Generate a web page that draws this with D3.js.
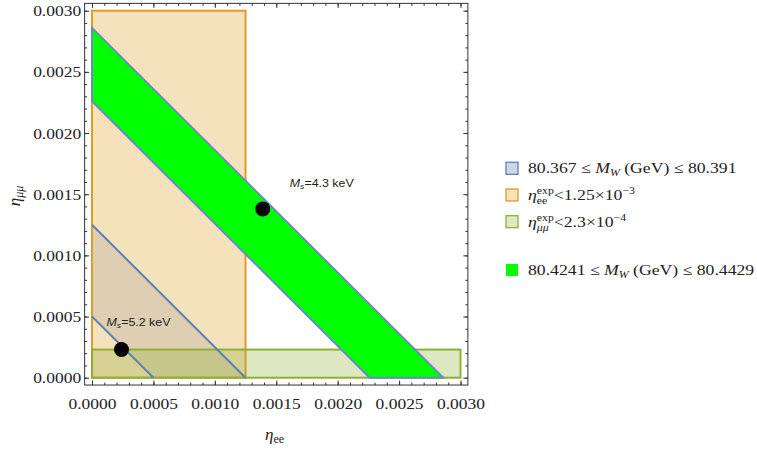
<!DOCTYPE html>
<html>
<head>
<meta charset="utf-8">
<script src="https://cdn.jsdelivr.net/npm/d3@7"></script>
<style>
  body { margin: 0; background: #fff; }
  svg text { font-family: "Liberation Serif", "DejaVu Serif", serif; }
</style>
</head>
<body>
<svg id="chart" width="757" height="449"></svg>
<script>
// values
var majorTicks = [0, 0.0005, 0.0010, 0.0015, 0.0020, 0.0025, 0.0030];
var minorTicks = d3.range(0, 31).map(i => i / 10000);
var blueBand = [0.0005, 0.00125];     // eta_ee + eta_mumu range, 80.367 <= MW <= 80.391
var greenBand = [0.00226, 0.00286];   // 80.4241 <= MW <= 80.4429
var eeLimit = 0.00125;
var mumuLimit = 0.00023;
var benchmarks = [
  { ee: 0.00024, mm: 0.00023, label: "=5.2 keV", dx: -15, dy: -24 },
  { ee: 0.00139, mm: 0.00138, label: "=4.3 keV", dx: 27, dy: -22 }
];

var blue = "#5e81b5", orange = "#e19c24", olive = "#8fb032";

var svg = d3.select("#chart");
var x = d3.scaleLinear().domain([0, 0.003]).range([92, 460.5]);
var y = d3.scaleLinear().domain([0, 0.003]).range([377.7, 10.7]);
var pad = 0.00006;
var fx0 = x(-pad), fx1 = x(0.003 + pad), fy0 = y(-pad), fy1 = y(0.003 + pad);

var plot = svg.append("g");

function band(lo, hi) {
  return [[0, lo], [0, hi], [hi, 0], [lo, 0]].map(p => [x(p[0]), y(p[1])]).join(" ");
}

// blue band fill (under the orange box)
plot.append("polygon")
  .attr("points", band(blueBand[0], blueBand[1]))
  .attr("fill", blue).attr("fill-opacity", 0.2)
  .attr("stroke", "none");

// orange box
plot.append("rect")
  .attr("x", x(0)).attr("y", y(0.003))
  .attr("width", x(eeLimit) - x(0)).attr("height", y(0) - y(0.003))
  .attr("fill", orange).attr("fill-opacity", 0.3)
  .attr("stroke", orange).attr("stroke-width", 2);

// olive box
plot.append("rect")
  .attr("x", x(0)).attr("y", y(mumuLimit))
  .attr("width", x(0.003) - x(0)).attr("height", y(0) - y(mumuLimit))
  .attr("fill", olive).attr("fill-opacity", 0.3)
  .attr("stroke", olive).attr("stroke-width", 2);

// blue band edges on top
blueBand.forEach(function (v) {
  plot.append("line")
    .attr("x1", x(0)).attr("y1", y(v))
    .attr("x2", x(v)).attr("y2", y(0))
    .attr("stroke", blue).attr("stroke-width", 2);
});

// green band
plot.append("polygon")
  .attr("points", band(greenBand[0], greenBand[1]))
  .attr("fill", "#00ff00")
  .attr("stroke", "#6a8cc0").attr("stroke-width", 2);

// benchmark points
benchmarks.forEach(function (b) {
  plot.append("circle")
    .attr("cx", x(b.ee)).attr("cy", y(b.mm)).attr("r", 7.5)
    .attr("fill", "#000");
  var g = plot.append("g")
    .attr("transform", "translate(" + (x(b.ee) + b.dx) + "," + (y(b.mm) + b.dy) + ") scale(1.08,1)");
  var t = g.append("text")
    .style("font-family", "'Liberation Sans', Arial, sans-serif")
    .attr("font-size", 11.5).attr("fill", "#222");
  t.append("tspan").attr("font-style", "italic").text("M");
  t.append("tspan").attr("font-style", "italic").attr("font-size", 8).attr("dy", 2.5).text("s");
  t.append("tspan").attr("dy", -2.5).text(b.label);
});

// frame
svg.append("rect")
  .attr("x", fx0).attr("y", fy1)
  .attr("width", fx1 - fx0).attr("height", fy0 - fy1)
  .attr("fill", "none").attr("stroke", "#333").attr("stroke-width", 1);

function styleAxis(g) {
  g.select(".domain").remove();
  g.selectAll(".tick line").attr("stroke", "#333");
}

// minor ticks, all four sides
[[d3.axisBottom(x), "translate(0," + fy0 + ")"],
 [d3.axisTop(x), "translate(0," + fy1 + ")"],
 [d3.axisLeft(y), "translate(" + fx0 + ",0)"],
 [d3.axisRight(y), "translate(" + fx1 + ",0)"]].forEach(function (a) {
  svg.append("g").attr("transform", a[1])
    .call(a[0].tickValues(minorTicks).tickSize(-2.5).tickFormat(""))
    .call(styleAxis);
});

var fmt = d3.format(".4f");

svg.append("g").attr("transform", "translate(0," + fy0 + ")")
  .call(d3.axisBottom(x).tickValues(majorTicks).tickSize(-4.5).tickPadding(13).tickFormat(fmt))
  .call(styleAxis);
svg.append("g").attr("transform", "translate(0," + fy1 + ")")
  .call(d3.axisTop(x).tickValues(majorTicks).tickSize(-4.5).tickFormat(""))
  .call(styleAxis);
svg.append("g").attr("transform", "translate(" + fx0 + ",0)")
  .call(d3.axisLeft(y).tickValues(majorTicks).tickSize(-4.5).tickPadding(3.5).tickFormat(fmt))
  .call(styleAxis);
svg.append("g").attr("transform", "translate(" + fx1 + ",0)")
  .call(d3.axisRight(y).tickValues(majorTicks).tickSize(-4.5).tickFormat(""))
  .call(styleAxis);

svg.selectAll(".tick text")
  .attr("font-family", "'Liberation Serif', serif")
  .attr("font-size", 15.5).attr("fill", "#222")
  .attr("textLength", 48).attr("lengthAdjust", "spacingAndGlyphs");

// axis titles
var xt = svg.append("text").attr("x", 265).attr("y", 440)
  .attr("font-size", 17).attr("fill", "#222");
xt.append("tspan").attr("font-style", "italic").text("η");
xt.append("tspan").attr("font-size", 12).attr("dy", 3).text("ee");

var yt = svg.append("text")
  .attr("transform", "translate(20,196) rotate(-90)")
  .attr("text-anchor", "middle")
  .attr("font-size", 17).attr("fill", "#222");
yt.append("tspan").attr("font-style", "italic").text("η");
yt.append("tspan").attr("font-style", "italic").attr("font-size", 12).attr("dy", 3).text("μμ");

// legend
var legendItems = [
  { fill: "#cdd7e8", stroke: blue, cy: 168.3, kind: "mw", lo: "80.367", hi: "80.391" },
  { fill: "#f6e1bd", stroke: orange, cy: 195, kind: "eta", sub: "ee", subItalic: false, val: "<1.25×10", exp: "−3" },
  { fill: "#dde7c1", stroke: olive, cy: 221.7, kind: "eta", sub: "μμ", subItalic: true, val: "<2.3×10", exp: "−4" },
  { fill: "#00ff00", stroke: "none", cy: 270, kind: "mw", lo: "80.4241", hi: "80.4429" }
];

var legend = svg.append("g");
legendItems.forEach(function (d) {
  legend.append("rect")
    .attr("x", 506).attr("y", d.cy - 6).attr("width", 12).attr("height", 12)
    .attr("fill", d.fill).attr("stroke", d.stroke).attr("stroke-width", d.stroke === "none" ? 0 : 1.3);
  var g = legend.append("g").attr("transform", "translate(528," + (d.cy + 5) + ") scale(1.18,1)");
  var t = g.append("text").attr("font-size", 15).attr("fill", "#222");
  if (d.kind === "mw") {
    t.append("tspan").text(d.lo + " ≤ ");
    t.append("tspan").attr("font-style", "italic").text("M");
    t.append("tspan").attr("font-style", "italic").attr("font-size", 10).attr("dy", 3).text("W");
    t.append("tspan").attr("dy", -3).text(" (GeV) ≤ " + d.hi);
  } else {
    t.append("tspan").attr("font-style", "italic").text("η");
    var sup = t.append("tspan").attr("font-size", 10).attr("dy", -6).text("exp");
    var sub = t.append("tspan").attr("font-size", 10).attr("dy", 10)
      .attr("font-style", d.subItalic ? "italic" : null).text(d.sub);
    var wSup = sup.node().getComputedTextLength();
    var wSub = sub.node().getComputedTextLength();
    sub.attr("dx", -wSup);
    t.append("tspan").attr("dy", -4).attr("dx", Math.max(0, wSup - wSub)).text(d.val);
    t.append("tspan").attr("font-size", 10).attr("dy", -6).text(d.exp);
  }
});
</script>
</body>
</html>
